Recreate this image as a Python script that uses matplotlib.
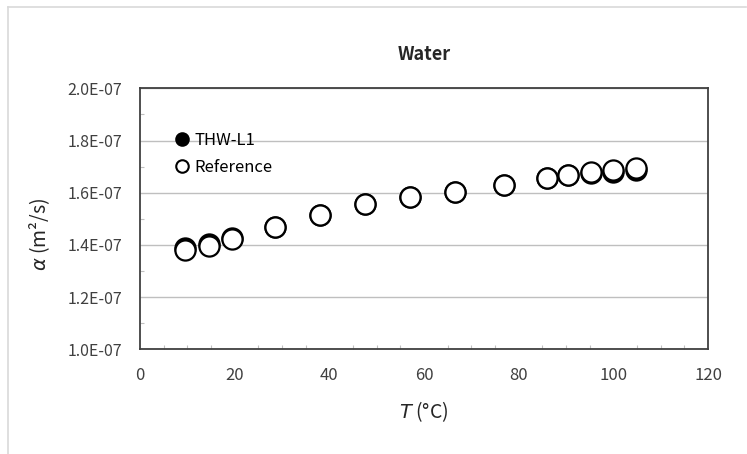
import numpy as np
import matplotlib
matplotlib.use("Agg")
import matplotlib.pyplot as plt
from matplotlib.lines import Line2D

plt.rcParams['font.family'] = ['Noto Sans CJK KR', 'DejaVu Sans']

# temperature (C)
temp = [9.5, 14.5, 19.5, 28.5, 38, 47.5, 57, 66.5, 77, 86, 90.5, 95.2, 100, 104.7]
# thermal diffusivity, units of 1e-7 m2/s
thw_l1 = [1.387, 1.403, 1.427, 1.470, 1.516, 1.557, 1.582, 1.604, 1.631, 1.657, 1.667, 1.676, 1.678, 1.687]
reference = [1.380, 1.397, 1.423, 1.470, 1.516, 1.557, 1.582, 1.604, 1.631, 1.657, 1.668, 1.678, 1.687, 1.696]

yticks = [1.0, 1.2, 1.4, 1.6, 1.8, 2.0]
ytick_labels = ["1.0E-07", "1.2E-07", "1.4E-07", "1.6E-07", "1.8E-07", "2.0E-07"]
xticks = [0, 20, 40, 60, 80, 100, 120]

fig = plt.figure(figsize=(7.47, 4.54), dpi=100)
ax = fig.add_axes([140 / 747, 1 - 349.3 / 454, 568 / 747, 261 / 454])

ax.plot(temp, thw_l1, 'o', ms=14.5, mfc='black', mec='black', mew=1.6, zorder=3)
ax.plot(temp, reference, 'o', ms=14.5, mfc='white', mec='black', mew=1.6, zorder=4)

ax.set_xlim(0, 120)
ax.set_ylim(1.0, 2.0)
ax.set_xticks(xticks)
ax.set_yticks(yticks)
ax.set_yticklabels(ytick_labels)
ax.set_xticks(np.arange(0, 121, 5), minor=True)
ax.set_yticks(np.arange(1.0, 2.01, 0.1), minor=True)
ax.tick_params(which='major', length=0, labelsize=11.5, colors='#404040')
ax.tick_params(axis='y', which='major', pad=13)
ax.tick_params(axis='x', which='major', pad=13, labelsize=12)
ax.tick_params(which='minor', direction='in', length=3, color='#c0c0c0', width=0.8)
ax.grid(axis='y', which='major', color='#bfbfbf', lw=1)
ax.set_axisbelow(True)
for sp in ax.spines.values():
    sp.set_color('#404040')
    sp.set_linewidth(1.3)

ax.text(0.5, 1.128, "Water", transform=ax.transAxes, ha='center', va='center',
        fontsize=13, fontweight='bold', color='#262626')
ax.set_xlabel(r"$T$ (°C)", fontsize=14, color='#262626')
ax.set_ylabel(r"$\alpha$ (m²/s)", fontsize=14, color='#262626')
ax.xaxis.set_label_coords(0.5, -0.24)
ax.yaxis.set_label_coords(-0.176, 0.44)
ax.xaxis.label.set_va('center')
ax.yaxis.label.set_va('center')

handles = [
    Line2D([], [], ls='none', marker='o', ms=9, mfc='black', mec='black', mew=1.5),
    Line2D([], [], ls='none', marker='o', ms=9, mfc='white', mec='black', mew=1.5),
]
ax.legend(handles, ["THW-L1", "Reference"], loc='upper left', bbox_to_anchor=(0.048, 0.86),
          frameon=False, fontsize=12, handletextpad=0.25, labelspacing=0.6,
          handlelength=1.0, borderaxespad=0)

# light chart-area border
fig.add_artist(Line2D([8 / 747, 746 / 747], [1 - 7 / 454, 1 - 7 / 454], color='#d9d9d9', lw=1.2))
fig.add_artist(Line2D([8 / 747, 8 / 747], [0, 1 - 7 / 454], color='#d9d9d9', lw=1.2))

fig.savefig("out.png", dpi=100)
